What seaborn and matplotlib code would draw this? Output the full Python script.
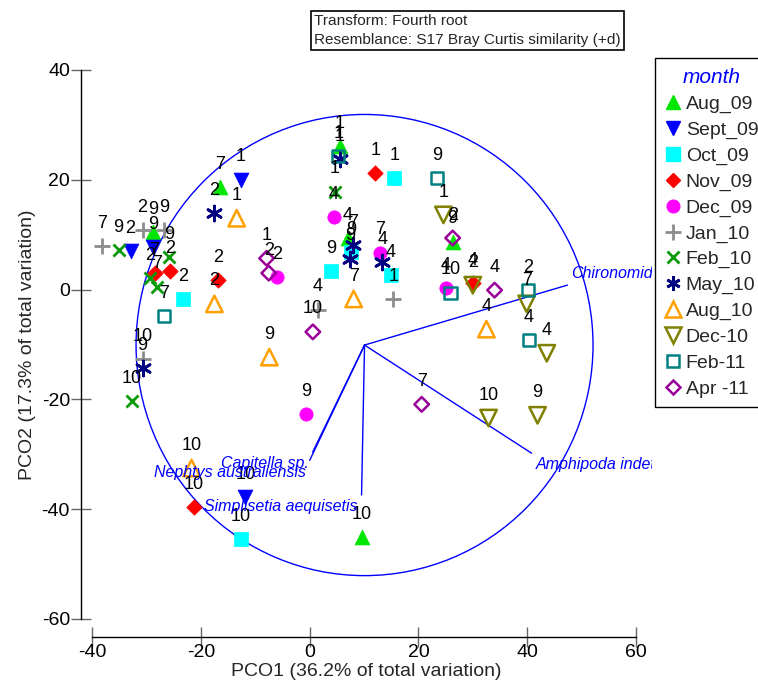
import numpy as np
import pandas as pd
import matplotlib
matplotlib.use("Agg")
import matplotlib.pyplot as plt
import seaborn as sns
from matplotlib.lines import Line2D
from matplotlib.patches import Circle
from matplotlib.transforms import offset_copy

# ---------------- data ----------------
months = ["Aug_09", "Sept_09", "Oct_09", "Nov_09", "Dec_09", "Jan_10",
          "Feb_10", "May_10", "Aug_10", "Dec-10", "Feb-11", "Apr -11"]

aug09_pco1 = [-16.4, -28.7, 5.5, 7.0, 26.3, 9.6]
aug09_pco2 = [18.7, 10.5, 26.1, 9.4, 8.7, -45.1]
aug09_site = ["7", "9", "1", "4", "9", "10"]

sep09_pco1 = [-12.7, -32.9, -28.7, -11.8]
sep09_pco2 = [20.0, 7.0, 7.7, -37.8]
sep09_site = ["1", "2", "9", "10"]

oct09_pco1 = [15.6, -23.2, 3.9, 7.7, 14.9, -12.7]
oct09_pco2 = [20.3, -1.7, 3.4, 6.8, 2.6, -45.5]
oct09_site = ["1", "2", "9", "9", "4", "10"]

nov09_pco1 = [12.1, -28.5, -25.7, -16.9, 30.0, -21.3]
nov09_pco2 = [21.2, 3.0, 3.4, 1.7, 1.2, -39.6]
nov09_site = ["1", "7", "2", "2", "4", "10"]

dec09_pco1 = [4.4, 12.9, -5.9, 25.0, -0.6]
dec09_pco2 = [13.2, 6.7, 2.3, 0.3, -22.7]
dec09_site = ["4", "7", "2", "4", "9"]

jan10_pco1 = [-38.1, -30.7, -26.7, 15.4, 1.5, -30.7]
jan10_pco2 = [7.9, 10.8, 10.8, -1.7, -3.7, -12.7]
jan10_site = ["7", "2", "9", "1", "4", "10"]

feb10_pco1 = [-35.1, -25.9, -29.4, -28.1, 4.6, -32.7]
feb10_pco2 = [7.2, 5.9, 2.1, 0.5, 17.8, -20.3]
feb10_site = ["9", "9", "2", "7", "1", "10"]

may10_pco1 = [-17.5, 5.5, 7.9, 7.5, 13.4, -30.7]
may10_pco2 = [13.9, 23.8, 8.1, 5.6, 5.0, -14.3]
may10_site = ["2", "1", "7", "9", "4", "9"]

aug10_pco1 = [-13.4, -17.5, 8.1, 32.5, -7.4, -21.7]
aug10_pco2 = [13.0, -2.6, -1.7, -7.2, -12.3, -32.5]
aug10_site = ["1", "2", "7", "4", "9", "10"]

dec10_pco1 = [24.6, 30.0, 39.9, 43.6, 32.9, 41.9]
dec10_pco2 = [13.6, 0.8, -2.6, -11.6, -23.4, -22.9]
dec10_site = ["1", "2", "7", "4", "10", "9"]

feb11_pco1 = [23.5, 5.3, 25.9, 40.1, 40.3, -26.8]
feb11_pco2 = [20.3, 24.3, -0.6, -0.1, -9.2, -4.8]
feb11_site = ["9", "1", "10", "2", "4", "7"]

apr11_pco1 = [-7.9, -7.5, 26.3, 34.0, 0.6, 20.6]
apr11_pco2 = [5.7, 3.0, 9.4, -0.1, -7.7, -20.9]
apr11_site = ["1", "2", "2", "4", "10", "7"]

# vector overlay (correlations with PCO axes)
vector_names = ["Chironomidae", "Amphipoda indet.", "Capitella sp.",
                "Nephtys australiensis", "Simplisetia aequisetis"]
vector_r1 = [0.888, 0.731, -0.227, -0.240, -0.013]
vector_r2 = [0.260, -0.469, -0.464, -0.500, -0.650]
circle_center = (10.1, -10.1)
circle_radius = 42.0

tick_values = [-40, -20, 0, 20, 40, 60]
ytick_values = [-60, -40, -20, 0, 20, 40]

# ---------------- build table ----------------
groups = [
    (aug09_pco1, aug09_pco2, aug09_site), (sep09_pco1, sep09_pco2, sep09_site),
    (oct09_pco1, oct09_pco2, oct09_site), (nov09_pco1, nov09_pco2, nov09_site),
    (dec09_pco1, dec09_pco2, dec09_site), (jan10_pco1, jan10_pco2, jan10_site),
    (feb10_pco1, feb10_pco2, feb10_site), (may10_pco1, may10_pco2, may10_site),
    (aug10_pco1, aug10_pco2, aug10_site), (dec10_pco1, dec10_pco2, dec10_site),
    (feb11_pco1, feb11_pco2, feb11_site), (apr11_pco1, apr11_pco2, apr11_site),
]
rows = []
for m, (xs, ys, ss) in zip(months, groups):
    for x, y, s in zip(xs, ys, ss):
        rows.append({"month": m, "PCO1": x, "PCO2": y, "site": s})
df = pd.DataFrame(rows)

# ---------------- styles ----------------
asterisk = (6, 2, 0)
styles = {
    "Aug_09":  dict(marker="^", color="#00E600", filled=True, s=115),
    "Sept_09": dict(marker="v", color="#0000FF", filled=True, s=115),
    "Oct_09":  dict(marker="s", color="#00FFFF", filled=True, s=100),
    "Nov_09":  dict(marker="D", color="#FF0000", filled=True, s=62),
    "Dec_09":  dict(marker="o", color="#FF00FF", filled=True, s=92),
    "Jan_10":  dict(marker="+", color="#8C8C8C", filled=None, s=135),
    "Feb_10":  dict(marker="x", color="#0A9A0A", filled=None, s=75),
    "May_10":  dict(marker=asterisk, color="#000080", filled=None, s=115),
    "Aug_10":  dict(marker="^", color="#FFA000", filled=False, s=140),
    "Dec-10":  dict(marker="v", color="#808000", filled=False, s=140),
    "Feb-11":  dict(marker="s", color="#008080", filled=False, s=75),
    "Apr -11": dict(marker="D", color="#990099", filled=False, s=55),
}

sns.set_theme(style="white")
plt.rcParams["font.family"] = ["Liberation Sans", "DejaVu Sans"]

W, H = 758, 683
fig = plt.figure(figsize=(W / 100, H / 100), dpi=100)
ax = fig.add_axes([81 / W, (H - 637) / H, 571 / W, 567 / H])

for m in months:
    st = styles[m]
    sub = df[df["month"] == m]
    if st["filled"] is True:
        kw = dict(facecolor=st["color"], edgecolor=st["color"], linewidth=0.5)
    elif st["filled"] is False:
        kw = dict(facecolor="none", edgecolor=st["color"], linewidth=1.8)
    else:
        kw = dict(facecolor=st["color"], linewidth=2.0)
    sns.scatterplot(data=sub, x="PCO1", y="PCO2", marker=st["marker"],
                    s=st["s"], ax=ax, legend=False, zorder=3, **kw)
    for _, r in sub.iterrows():
        ax.annotate(r["site"], (r["PCO1"], r["PCO2"]), xytext=(0, 16.5),
                    textcoords="offset points", ha="center", va="center",
                    fontsize=13, color="black", zorder=4)

# circle and vectors
cx, cy = circle_center
ax.add_patch(Circle((cx, cy), circle_radius, fill=False, edgecolor="#0000FF",
                    linewidth=1.0, zorder=2))
for name, r1, r2 in zip(vector_names, vector_r1, vector_r2):
    ex, ey = cx + r1 * circle_radius, cy + r2 * circle_radius
    ax.plot([cx, ex], [cy, ey], color="#0000FF", linewidth=1.0, zorder=2)
    ha = "left" if r1 > 0 else "right"
    va = "bottom" if r2 > 0 else "top"
    tr = offset_copy(ax.transData, fig=fig, x=3 if r1 > 0 else -3,
                     y=3 if r2 > 0 else -3, units="points")
    ax.text(ex, ey, name, transform=tr, ha=ha, va=va, fontsize=11.5,
            style="italic", color="#0000FF", zorder=5, clip_on=True)

# axes styling
ax.set_xlim(-42.02, 62.94)
ax.set_ylim(-63.28, 40)
ax.set_xticks(tick_values)
ax.set_yticks(ytick_values)
ax.set_xticklabels([str(v) for v in tick_values])
ax.set_yticklabels([str(v) for v in ytick_values])
for sp in ["top", "right"]:
    ax.spines[sp].set_visible(False)
ax.spines["left"].set_bounds(-60, 40)
ax.spines["bottom"].set_bounds(-40, 60)
for sp in ["left", "bottom"]:
    ax.spines[sp].set_color("black")
    ax.spines[sp].set_linewidth(1.0)
ax.set_facecolor("white")
ax.tick_params(axis="both", which="major", bottom=True, left=True,
               direction="inout", length=14, width=1,
               color="#666666", labelsize=14, labelcolor="black")
ax.tick_params(axis="x", pad=-2)
ax.tick_params(axis="y", pad=1)
ax.set_xlabel("PCO1 (36.2% of total variation)", fontsize=14)
ax.set_ylabel("PCO2 (17.3% of total variation)", fontsize=14)
ax.xaxis.set_label_coords(0.5, -0.046)
ax.yaxis.set_label_coords(-0.078, 0.515)

# legend
handles = []
for m in months:
    st = styles[m]
    ms = np.sqrt(st["s"]) * 0.95
    if st["filled"] is True:
        h = Line2D([], [], linestyle="none", marker=st["marker"], markersize=ms,
                   markerfacecolor=st["color"], markeredgecolor=st["color"])
    elif st["filled"] is False:
        h = Line2D([], [], linestyle="none", marker=st["marker"], markersize=ms,
                   markerfacecolor="none", markeredgecolor=st["color"], markeredgewidth=1.8)
    else:
        h = Line2D([], [], linestyle="none", marker=st["marker"], markersize=ms,
                   color=st["color"], markeredgewidth=2.0)
    handles.append(h)
leg = fig.legend(handles, months, loc="upper left",
                 bbox_to_anchor=(655 / W, 1 - 58 / H), borderaxespad=0,
                 frameon=True, fancybox=False, edgecolor="black", framealpha=1,
                 fontsize=14, title="month", borderpad=0.5, labelspacing=0.42,
                 handlelength=0.8, handletextpad=0.28)
leg.get_title().set_fontstyle("italic")
leg.get_title().set_fontsize(15)
leg.get_title().set_color("#0000FF")
leg.get_frame().set_linewidth(1.0)

# resemblance box
fig.text(314 / W, 1 - 14 / H,
         "Transform: Fourth root\nResemblance: S17 Bray Curtis similarity (+d)",
         ha="left", va="top", fontsize=11.1, linespacing=1.45,
         bbox=dict(boxstyle="square,pad=0.22", facecolor="white",
                   edgecolor="black", linewidth=1.2))

fig.savefig("out.png", dpi=100)
